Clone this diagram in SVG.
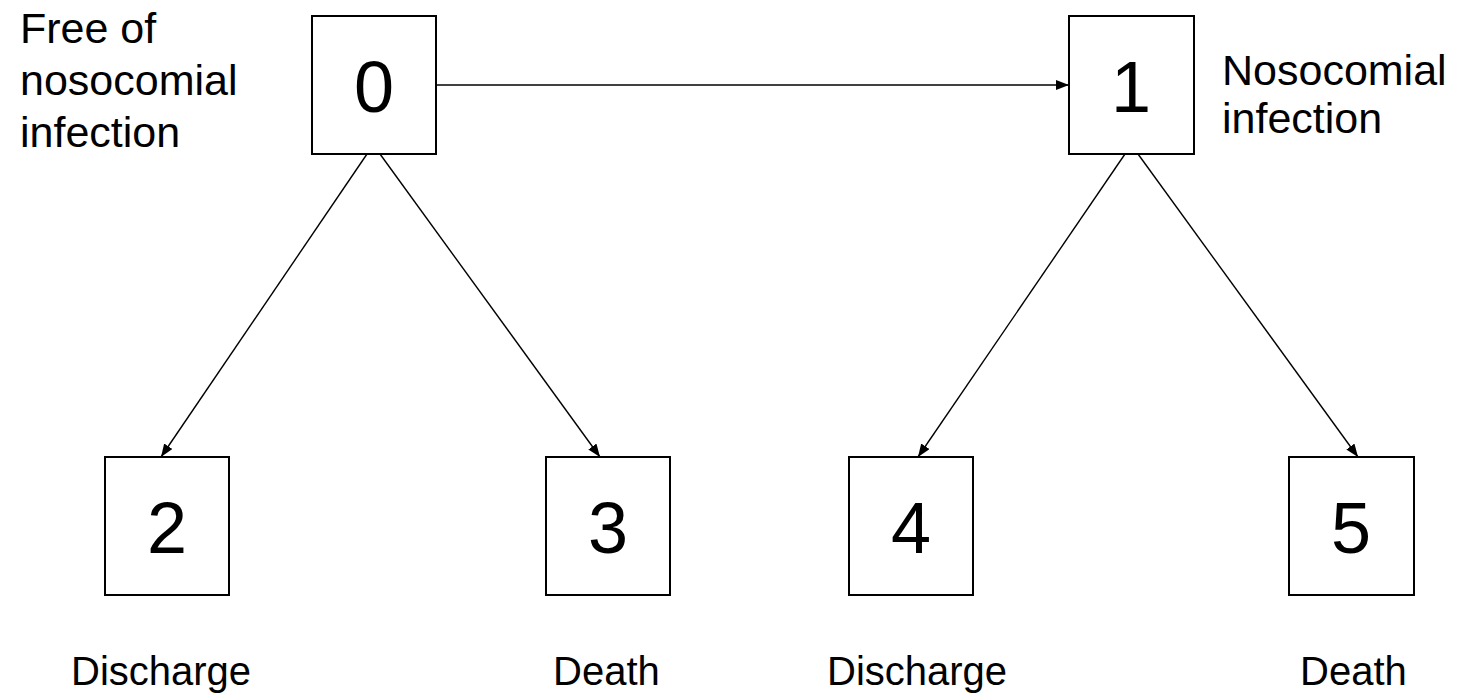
<svg xmlns="http://www.w3.org/2000/svg" width="1457" height="697" viewBox="0 0 1457 697">
<style>
.box{fill:#fff;stroke:#000;stroke-width:2}
.num{font-family:"Liberation Sans",Arial,sans-serif;font-size:72px;text-anchor:middle;fill:#000}
.lbl{font-family:"Liberation Sans",Arial,sans-serif;font-size:43px;fill:#000}
.blbl{font-family:"Liberation Sans",Arial,sans-serif;font-size:40px;fill:#000}
.edge{stroke:#000;stroke-width:1.4;fill:none;marker-end:url(#arr)}
</style>
<defs>
<marker id="arr" markerUnits="userSpaceOnUse" markerWidth="14" markerHeight="12" refX="13" refY="5" orient="auto">
<path d="M0,0 L13,5 L0,10 z" fill="#000"/>
</marker>
</defs>
<rect width="1457" height="697" fill="#fff"/>
<g id="connectors">
<line class="edge" x1="436" y1="85" x2="1069" y2="85"/>
<line class="edge" x1="367" y1="154" x2="161" y2="457"/>
<line class="edge" x1="380" y1="154" x2="600" y2="457"/>
<line class="edge" x1="1125" y1="154" x2="918" y2="457"/>
<line class="edge" x1="1138" y1="154" x2="1358" y2="457"/>
</g>
<g id="node0"><rect class="box" x="312" y="16" width="124" height="138"/><text class="num" x="374" y="112">0</text></g>
<g id="node1"><rect class="box" x="1069" y="16" width="125" height="138"/><text class="num" x="1131" y="112">1</text></g>
<g id="node2"><rect class="box" x="105" y="457" width="124" height="138"/><text class="num" x="167" y="553">2</text></g>
<g id="node3"><rect class="box" x="546" y="457" width="124" height="138"/><text class="num" x="608" y="553">3</text></g>
<g id="node4"><rect class="box" x="849" y="457" width="124" height="138"/><text class="num" x="911" y="553">4</text></g>
<g id="node5"><rect class="box" x="1289" y="457" width="125" height="138"/><text class="num" x="1351" y="553">5</text></g>
<g id="labels">
<text class="lbl" x="20" y="43">Free of</text>
<text class="lbl" x="20" y="95">nosocomial</text>
<text class="lbl" x="20" y="147">infection</text>
<text class="lbl" x="1222" y="85">Nosocomial</text>
<text class="lbl" x="1222" y="133">infection</text>
<text class="blbl" x="71" y="685">Discharge</text>
<text class="blbl" x="553" y="685">Death</text>
<text class="blbl" x="827" y="685">Discharge</text>
<text class="blbl" x="1300" y="685">Death</text>
</g>
</svg>
